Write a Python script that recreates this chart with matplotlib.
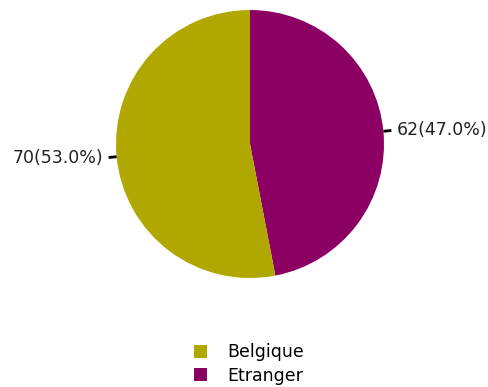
import numpy as np
import matplotlib
matplotlib.use("Agg")
import matplotlib.pyplot as plt
from matplotlib.patches import Patch

categories = ["Belgique", "Etranger"]
values = [70, 62]
colors = ["#B0A800", "#8B0062"]

W, H = 488, 387
fig = plt.figure(figsize=(W / 100, H / 100), dpi=100)
cx, cy, r = 250, 144, 134
ax = fig.add_axes([(cx - r) / W, (H - cy - r) / H, 2 * r / W, 2 * r / H])

# Draw clockwise from top: Etranger first, then Belgique
order = [1, 0]
wedges, _ = ax.pie([values[i] for i in order], colors=[colors[i] for i in order],
                   startangle=90, counterclock=False, radius=1,
                   wedgeprops=dict(linewidth=0))
ax.set_xlim(-1, 1)
ax.set_ylim(-1, 1)
ax.set_aspect("auto")
ax.axis("off")

total = sum(values)
font = "DejaVu Sans"
for w, i in zip(wedges, order):
    ang = np.deg2rad((w.theta1 + w.theta2) / 2)
    x0, y0 = np.cos(ang), np.sin(ang)
    x1, y1 = 1.06 * x0, 1.06 * y0
    ax.plot([x0, x1], [y0, y1], color="black", lw=2, clip_on=False, solid_capstyle="butt")
    ha = "left" if x0 > 0 else "right"
    tx = x1 + (0.04 if x0 > 0 else -0.04)
    ax.text(tx, y1, f"{values[i]}({values[i] / total * 100:.1f}%)", ha=ha, va="center",
            fontsize=12.5, family=font, color="#222222", clip_on=False)

handles = [Patch(facecolor=c, edgecolor="none") for c in colors]
fig.legend(handles, categories, loc="center", bbox_to_anchor=(0.51, 1 - 364 / H),
           frameon=False, prop=dict(family=font, size=12.5), handlelength=0.75,
           handleheight=0.75, handletextpad=1.2, labelspacing=0.3)

fig.savefig("out.png", dpi=100)
